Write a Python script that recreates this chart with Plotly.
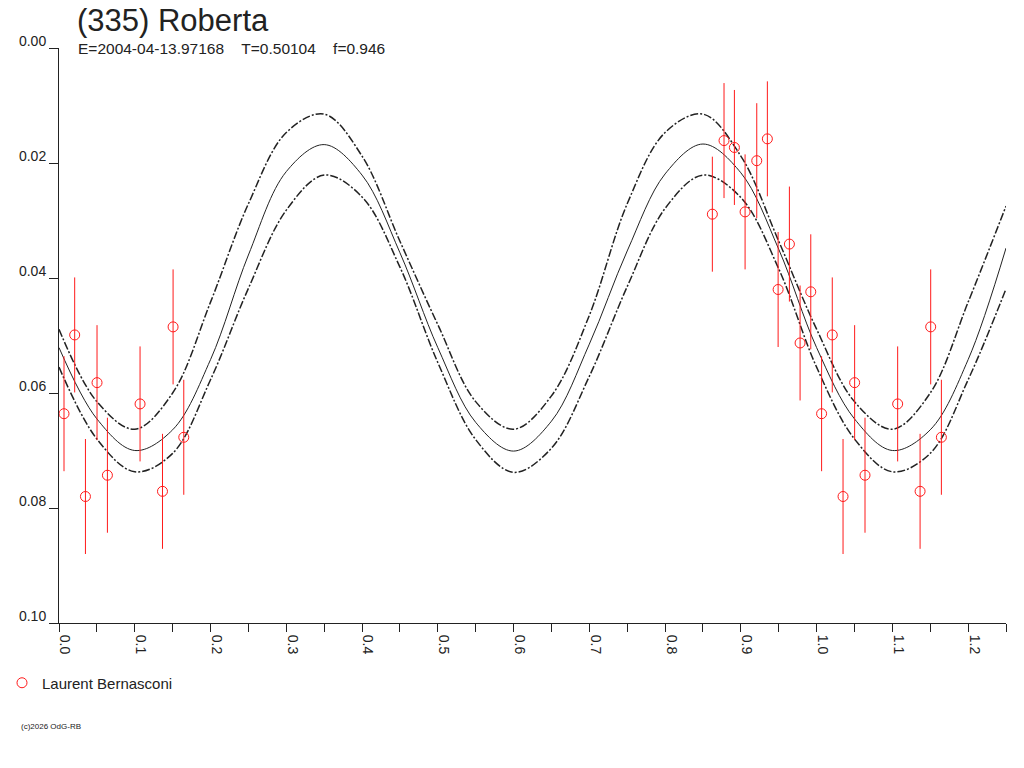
import plotly.graph_objects as go

# ---------------- text ----------------
title_text = "(335) Roberta"
subtitle_text = "E=2004-04-13.97168\u00a0\u00a0\u00a0\u00a0T=0.50104\u00a0\u00a0\u00a0\u00a0f=0.946"
observer_name = "Laurent Bernasconi"
credit_text = "(c)2026 OdG-RB"

# ---------------- fitted lightcurve (every 0.05 in phase) ----------------
curve_phase = [0.00, 0.05, 0.10, 0.15, 0.20, 0.25, 0.30, 0.35, 0.40, 0.45,
               0.50, 0.55, 0.60, 0.65, 0.70, 0.75, 0.80, 0.85, 0.90, 0.95,
               1.00, 1.05, 1.10, 1.15, 1.20, 1.25]
fit_mag = [0.0521, 0.0645, 0.0700, 0.0664, 0.0542, 0.0360, 0.0215, 0.0168, 0.0221, 0.0356,
           0.0521, 0.0651, 0.0701, 0.0649, 0.0515, 0.0353, 0.0219, 0.0167, 0.0217, 0.0350,
           0.0521, 0.0645, 0.0700, 0.0664, 0.0542, 0.0348]
fit_upper = [0.0489, 0.0615, 0.0663, 0.0600, 0.0442, 0.0271, 0.0147, 0.0115, 0.0188, 0.0336,
             0.0481, 0.0615, 0.0663, 0.0605, 0.0465, 0.0271, 0.0147, 0.0115, 0.0188, 0.0336,
             0.0489, 0.0615, 0.0663, 0.0600, 0.0442, 0.0275]
fit_lower = [0.0555, 0.0680, 0.0737, 0.0705, 0.0577, 0.0418, 0.0282, 0.0221, 0.0259, 0.0381,
             0.0547, 0.0681, 0.0738, 0.0696, 0.0571, 0.0415, 0.0279, 0.0221, 0.0260, 0.0384,
             0.0555, 0.0680, 0.0737, 0.0705, 0.0577, 0.0419]

# ---------------- observations ----------------
obs_phase = [0.0066, 0.0207, 0.0349, 0.0502, 0.0639, 0.1070, 0.1366, 0.1506, 0.1647,
             0.8624, 0.8778, 0.8915, 0.9056, 0.9210, 0.9350, 0.9492, 0.9641, 0.9782, 0.9923]
obs_mag = [0.0636, 0.0499, 0.0780, 0.0582, 0.0743, 0.0619, 0.0771, 0.0485, 0.0677,
           0.0289, 0.0161, 0.0173, 0.0285, 0.0196, 0.0158, 0.0420, 0.0341, 0.0513, 0.0424]
obs_err = [0.010, 0.010, 0.010, 0.010, 0.010, 0.010, 0.010, 0.010, 0.010,
           0.010, 0.010, 0.010, 0.010, 0.010, 0.010, 0.010, 0.010, 0.010, 0.010]

# ---------------- axis ticks ----------------
x_tick_vals = [0.0, 0.1, 0.2, 0.3, 0.4, 0.5, 0.6, 0.7, 0.8, 0.9, 1.0, 1.1, 1.2]
x_tick_text = ["0.0", "0.1", "0.2", "0.3", "0.4", "0.5", "0.6", "0.7", "0.8", "0.9", "1.0", "1.1", "1.2"]
y_tick_vals = [0.00, 0.02, 0.04, 0.06, 0.08, 0.10]
y_tick_text = ["0.00", "0.02", "0.04", "0.06", "0.08", "0.10"]

# phase-folded display: points repeated one cycle later where still inside the window
x_max = 1.25
plot_x, plot_y, plot_e = [], [], []
for p, m, e in zip(obs_phase, obs_mag, obs_err):
    plot_x.append(p); plot_y.append(m); plot_e.append(e)
for p, m, e in zip(obs_phase, obs_mag, obs_err):
    if p + 1 <= x_max:
        plot_x.append(p + 1); plot_y.append(m); plot_e.append(e)

FONT = "Liberation Sans, Arial, sans-serif"
INK = "#222222"
RED = "#ff1a1a"

L, R, T, B = 59, 18, 48, 145
PW, PH = 1024 - L - R, 768 - T - B


def px_x(px):
    return (px - L) / PW


def px_y(py):
    return (768 - B - py) / PH


fig = go.Figure()
for yy in (fit_upper, fit_lower):
    fig.add_trace(go.Scatter(x=curve_phase, y=yy, mode="lines", line_shape="spline",
                             line=dict(color=INK, width=1.5, dash="8px,2px,2px,2px"),
                             showlegend=False, hoverinfo="skip"))
fig.add_trace(go.Scatter(x=curve_phase, y=fit_mag, mode="lines", line_shape="spline",
                         line=dict(color=INK, width=1), showlegend=False, hoverinfo="skip"))
fig.add_trace(go.Scatter(x=plot_x, y=plot_y, mode="markers", name=observer_name,
                         marker=dict(symbol="circle-open", size=10, color=RED, line=dict(width=1, color=RED)),
                         error_y=dict(type="data", array=plot_e, visible=True, color=RED, thickness=1, width=0)))

fig.update_layout(
    width=1024, height=768,
    margin=dict(l=L, r=R, t=T, b=B, autoexpand=False),
    paper_bgcolor="white", plot_bgcolor="white",
    font=dict(family=FONT, color=INK, size=14),
    title=dict(text=title_text, font=dict(size=31, family=FONT, color=INK),
               xref="container", yref="container", x=77 / 1024, xanchor="left",
               y=1 - 20 / 768, yanchor="middle"),
    showlegend=True,
    legend=dict(xref="paper", yref="paper", x=px_x(2), y=px_y(683),
                xanchor="left", yanchor="middle", font=dict(size=15, family=FONT, color=INK),
                bgcolor="rgba(0,0,0,0)", borderwidth=0, itemwidth=30),
    xaxis=dict(range=[0, x_max], showline=True, linecolor=INK, linewidth=1, automargin=False,
               ticks="outside", ticklen=8, tickcolor=INK, tickwidth=1,
               tickvals=x_tick_vals, ticktext=x_tick_text, tickangle=90,
               tickfont=dict(size=14, family=FONT, color=INK), ticklabelshift=6,
               minor=dict(tick0=0, dtick=0.05, ticks="outside", ticklen=8, tickcolor=INK, showgrid=False),
               showgrid=False, zeroline=False),
    yaxis=dict(range=[0.1, 0.0], showline=True, linecolor=INK, linewidth=1, automargin=False,
               ticks="outside", ticklen=9, tickcolor=INK, tickwidth=1,
               tickvals=y_tick_vals, ticktext=y_tick_text,
               tickfont=dict(size=14, family=FONT, color=INK), ticklabelshift=7,
               showgrid=False, zeroline=False),
    annotations=[
        dict(text=subtitle_text, xref="paper", yref="paper", x=px_x(76), y=px_y(48),
             xanchor="left", yanchor="middle", showarrow=False,
             font=dict(size=15.5, family=FONT, color=INK)),
        dict(text=credit_text, xref="paper", yref="paper", x=px_x(19), y=px_y(726),
             xanchor="left", yanchor="middle", showarrow=False,
             font=dict(size=8, family=FONT, color=INK)),
    ],
)

fig.write_html("out.html", config={"displayModeBar": False},
               post_script="document.body.style.margin='0px';document.body.style.overflow='hidden';")
